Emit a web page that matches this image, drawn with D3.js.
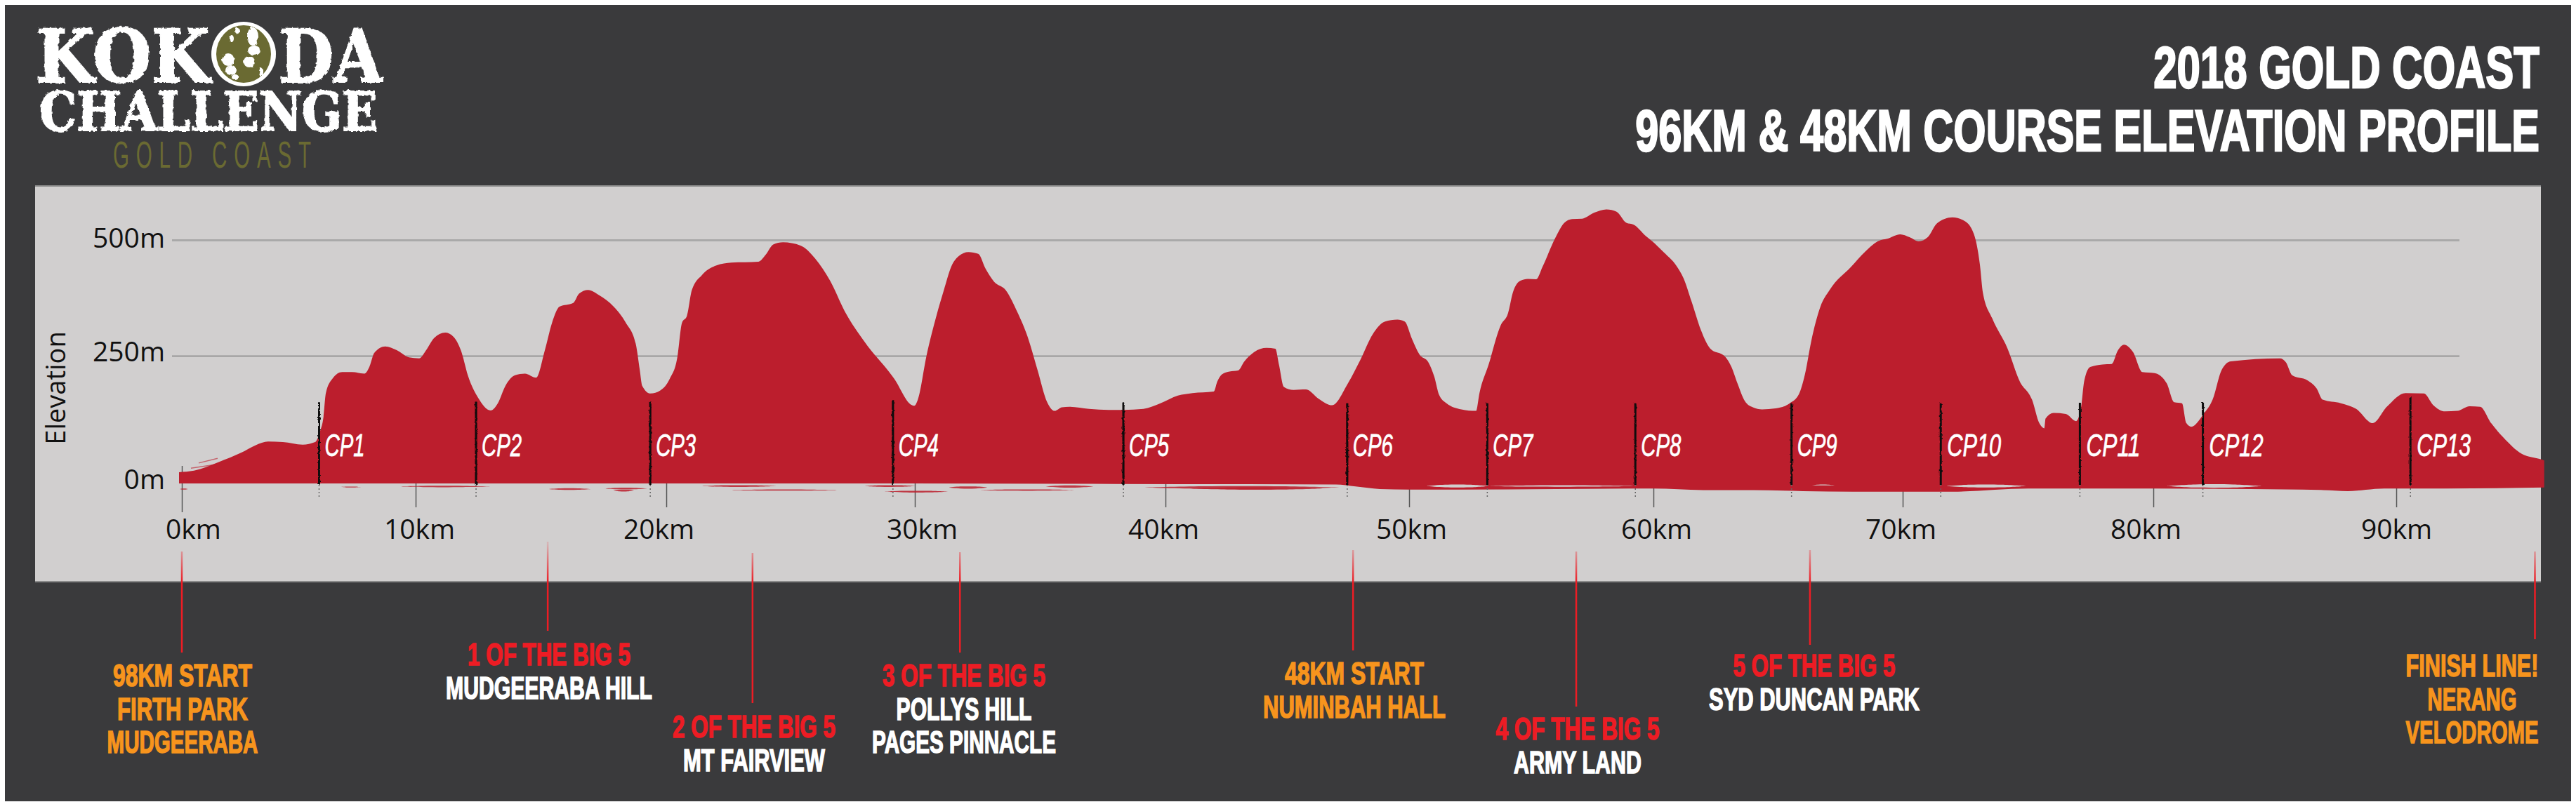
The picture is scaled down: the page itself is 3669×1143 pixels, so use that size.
<!DOCTYPE html>
<html>
<head>
<meta charset="utf-8">
<script src="https://cdnjs.cloudflare.com/ajax/libs/d3/7.8.5/d3.min.js"></script>
<style>
    html, body { margin: 0; padding: 0; background: #fff; overflow: hidden; }
    svg { display: block; }
    .narrow { font-family: "Liberation Sans Narrow", "Liberation Sans", sans-serif; }
    .axis text { font-family: "Open Sans", sans-serif; font-size: 39px; fill: #111; }
</style>
</head>
<body>
<svg id="chart" width="3669" height="1143"></svg>
<script>
; (function () {

    // elevation profile, [km, metres]
    var profile = [
        [-0.12, 22], [0.52, 25], [1.58, 42], [2.53, 60], [3.16, 75], [3.69, 82], [4.32, 81], [5.17, 76], [5.70, 81],
        [5.91, 102], [6.06, 131], [6.16, 177], [6.44, 205], [6.86, 218], [7.28, 218], [7.81, 215], [8.02, 228],
        [8.23, 256], [8.70, 270], [9.19, 262], [9.71, 247], [10.14, 245], [10.43, 263], [10.73, 288], [11.18, 300],
        [11.51, 291], [11.81, 261], [12.10, 209], [12.49, 168], [12.99, 143], [13.28, 157], [13.58, 191], [13.97, 212],
        [14.36, 215], [14.81, 207], [15.15, 261], [15.44, 321], [15.74, 356], [16.29, 364], [16.52, 384], [16.88, 392],
        [17.31, 381], [17.90, 356], [18.39, 321], [18.78, 276], [18.94, 223], [19.04, 191], [19.37, 176], [19.76, 182],
        [20.14, 205], [20.44, 246], [20.63, 321], [20.83, 336], [21.03, 392], [21.43, 424], [22.02, 445], [22.62, 451],
        [23.71, 453], [24.00, 468], [24.30, 490], [24.70, 495], [25.40, 488], [25.99, 460], [26.59, 412], [27.18, 346],
        [27.98, 280], [29.17, 205], [29.86, 154], [29.98, 152], [30.12, 164], [30.47, 251], [30.86, 336], [31.16, 392],
        [31.45, 442], [31.75, 465], [32.14, 474], [32.53, 470], [32.83, 437], [33.16, 410], [33.62, 392], [34.11, 342],
        [34.50, 291], [34.89, 223], [35.28, 159], [35.58, 142], [35.87, 149], [36.17, 150], [36.95, 146], [37.74, 144],
        [38.33, 144], [39.12, 146], [39.80, 157], [40.51, 172], [41.11, 177], [41.98, 180], [42.13, 200], [42.33, 214],
        [42.63, 219], [42.98, 221], [43.24, 239], [43.64, 258], [44.15, 267], [44.51, 265], [44.66, 232], [44.86, 189],
        [45.26, 183], [45.77, 184], [46.28, 166], [46.84, 153], [47.49, 196], [47.99, 241], [48.50, 296], [49.01, 324],
        [49.52, 328], [49.82, 324], [50.12, 286], [50.42, 253], [50.79, 237], [51.03, 209], [51.23, 173], [51.53, 157],
        [52.14, 145], [52.74, 142], [52.88, 177], [53.25, 232], [53.75, 316], [54.05, 342], [54.25, 387], [54.56, 412],
        [54.86, 416], [55.20, 415], [55.46, 442], [55.97, 503], [56.37, 538], [56.67, 545], [57.08, 546], [57.58, 559],
        [58.08, 566], [58.49, 561], [58.89, 537], [59.19, 533], [59.70, 508], [59.93, 498], [60.42, 473], [60.91, 445],
        [61.21, 417], [61.53, 367], [61.90, 306], [62.27, 266], [62.88, 248], [63.13, 228], [63.37, 196], [63.67, 161],
        [63.99, 149], [64.36, 145], [64.90, 147], [65.47, 157], [65.84, 175], [66.08, 214], [66.33, 281], [66.70, 356],
        [67.07, 392], [67.93, 442], [68.50, 475], [69.04, 498], [69.41, 503], [69.90, 512], [70.27, 506], [70.64, 497],
        [71.00, 506], [71.37, 536], [71.98, 549], [72.47, 541], [72.84, 513], [73.08, 447], [73.20, 386], [73.57, 331],
        [74.18, 266], [74.67, 200], [75.16, 164], [75.45, 118], [75.65, 108], [75.70, 127], [76.02, 138], [76.51, 136],
        [76.92, 122], [77.12, 150], [77.24, 200], [77.48, 228], [77.97, 233], [78.34, 234], [78.58, 261], [78.83, 274],
        [79.19, 258], [79.56, 218], [80.05, 216], [80.55, 196], [80.86, 159], [81.18, 157], [81.36, 118], [81.56, 111],
        [82.07, 136], [82.44, 164], [82.82, 223], [83.19, 239], [85.21, 245], [85.46, 237], [85.71, 212], [86.34, 202],
        [86.72, 186], [86.97, 164], [87.72, 157], [88.35, 146], [89.03, 118], [89.61, 150], [90.38, 177], [91.13, 176],
        [91.50, 154], [92.00, 141], [92.50, 142], [93.00, 151], [93.43, 150], [93.88, 118], [94.38, 90], [95.13, 58],
        [95.93, 47], [96.05, 45]
    ]

    // the ragged lower edge of the red shape, [km, metres]
    var baseEdge = [
        [-0.12, 0], [30, 0], [38, -1], [47, -2], [47.8, -6], [48.8, -11], [50, -12], [52, -12], [56, -11], [60, -10],
        [62, -13], [64, -13], [66, -15], [68, -16], [72, -16], [75, -10], [77, -10], [80, -10], [84, -11], [87, -13],
        [88, -15], [89.5, -10], [92, -10], [96.05, -8]
    ]

    // paint smears under the baseline, [km from, km to, metres, thickness]
    var smears = [
        [-0.1, 0.27, -11, 2], [6.75, 7.7, -7, 1.5], [9.1, 13.1, -6, 2.5], [15.25, 17, -11, 3], [17.5, 19.25, -10, 3],
        [17.9, 18.7, -14, 3], [21.4, 24.4, -5, 3], [22.5, 27, -13, 2], [28, 30, -5, 3], [28.8, 31.3, -16, 3],
        [31.35, 32.9, -8, 4], [32.6, 36.4, -13, 2.5], [35.2, 37.15, -6, 4], [39.1, 47.2, -8, 5], [41, 46.5, -10, 4]
    ]
    // light slits left inside the red, same columns
    var slits = [
        [50.7, 53.25, -5, 5], [53.25, 59.3, -5, 2.5], [66.3, 67.3, -3, 1.5], [71.74, 74.9, -5, 5], [80.55, 84.46, -5, 6]
    ]
    // thin strokes above the first climb, [km, m, km, m]
    var streaks = [[0.72, 40, 1.53, 49], [0.39, 30, 1.6, 38]]

    var kmTicks = [0, 10, 20, 30, 40, 50, 60, 70, 80, 90]
    var elevTicks = [0, 250, 500]

    var cpNames = ["CP1", "CP2", "CP3", "CP4", "CP5", "CP6", "CP7", "CP8", "CP9", "CP10", "CP11", "CP12", "CP13"]
    var cpKm = [5.87, 12.41, 19.36, 29.12, 38.32, 47.46, 53.2, 59.26, 65.54, 71.52, 77.07, 82.04, 90.58]
    var cpTop = [159, 160, 160, 163, 158, 157, 157, 157, 157, 157, 158, 158, 170]

    var noteKm = [0, 15.27, 23.47, 31.8, 47.7, 56.84, 66.28, 95.67]
    var noteLines = [
        ["98KM START", "FIRTH PARK", "MUDGEERABA"],
        ["1 OF THE BIG 5", "MUDGEERABA HILL"],
        ["2 OF THE BIG 5", "MT FAIRVIEW"],
        ["3 OF THE BIG 5", "POLLYS HILL", "PAGES PINNACLE"],
        ["48KM START", "NUMINBAH HALL"],
        ["4 OF THE BIG 5", "ARMY LAND"],
        ["5 OF THE BIG 5", "SYD DUNCAN PARK"],
        ["FINISH LINE!", "NERANG", "VELODROME"]
    ]

    // layout of the notes, not data
    var noteLayout = [
        { cx: 260, y: 978, widths: [198, 186, 215], top: 786, end: 930, orange: true },
        { cx: 782, y: 948, widths: [232, 294], top: 772, end: 899 },
        { cx: 1074, y: 1051, widths: [232, 202], top: 788, end: 1002 },
        { cx: 1373, y: 978, widths: [232, 193, 262], top: 787, end: 930 },
        { cx: 1929, y: 975, widths: [198, 260], top: 784, end: 927, orange: true },
        { cx: 2247, y: 1054, widths: [233, 182], top: 786, end: 1007 },
        { cx: 2584, y: 964, widths: [231, 300], top: 784, end: 919 },
        { cx: 3521, y: 964, widths: [189, 127, 189], top: 786, end: 911, orange: true }
    ]

    var red = "#bc1e2d"
    var panel = "#d1cfcf"
    var olive = "#6a6a32"

    var svg = d3.select("#chart")

    // squeeze a text to the width it has in the picture, anchored at (px, py)
    function fit(sel, px, py, width) {
        var w = sel.node().getComputedTextLength()
        sel.attr("transform", "translate(" + px + "," + py + ") scale(" + (width / w) + ",1)")
        return sel
    }

    var defs = svg.append("defs")
    function roughFilter(id, freq, amount) {
        var f = defs.append("filter").attr("id", id).attr("x", "-5%").attr("y", "-5%").attr("width", "110%").attr("height", "110%")
        f.append("feTurbulence").attr("type", "fractalNoise").attr("baseFrequency", freq).attr("numOctaves", 2).attr("seed", 4).attr("result", "n")
        f.append("feDisplacementMap").attr("in", "SourceGraphic").attr("in2", "n").attr("scale", amount)
    }
    roughFilter("rough", 0.18, 5)
    roughFilter("rough2", 0.25, 3)
    var fade = defs.append("linearGradient").attr("id", "fade").attr("gradientUnits", "userSpaceOnUse")
        .attr("x1", 0).attr("x2", 0).attr("y1", 775).attr("y2", 830)
    fade.append("stop").attr("offset", 0).attr("stop-color", "#ed1c24").attr("stop-opacity", 0.15)
    fade.append("stop").attr("offset", 1).attr("stop-color", "#ed1c24")

    svg.append("rect").attr("x", 7).attr("y", 7).attr("width", 3655).attr("height", 1135).attr("fill", "#3a3a3c")
    svg.append("rect").attr("x", 50).attr("y", 265).attr("width", 3569).attr("height", 564).attr("fill", panel)
    svg.append("rect").attr("x", 50).attr("y", 264).attr("width", 3569).attr("height", 2).attr("fill", "#8a8a8a")
    svg.append("rect").attr("x", 50).attr("y", 828).attr("width", 3569).attr("height", 2).attr("fill", "#8a8a8a")

    // the tick spacing in the picture is not even, so the scale goes through each tick
    var x = d3.scaleLinear()
        .domain([0, 10, 20, 30, 40, 50, 60, 70, 80, 90, 96])
        .range([259, 592, 949, 1303, 1660, 2007, 2355, 2710, 3067, 3413, 3622])
    var y = d3.scaleLinear()
        .domain([0, 250, 500])
        .range([689, 507, 342])

    var labelShift = [16, 5, -11, 10, -3, 3, 4, -3, -11, 0]
    var labelDy = { 0: 7, 250: 7, 500: 10 }

    var yAxis = svg.append("g").attr("class", "axis").attr("transform", "translate(245,0)")
        .call(d3.axisLeft(y).tickValues(elevTicks).tickFormat(function (d) { return d + "m" }).tickSize(-3258).tickPadding(10))
    yAxis.select(".domain").remove()
    yAxis.selectAll(".tick line")
        .attr("stroke", function (d) { return d == 500 ? "#a9a9a9" : "#979797" })
        .attr("stroke-width", function (d) { return d == 500 ? 3 : 2 })
        .attr("display", function (d) { return d == 0 ? "none" : null })
    yAxis.selectAll(".tick text").attr("dy", function (d) { return labelDy[d] })

    var xAxis = svg.append("g").attr("class", "axis").attr("transform", "translate(0," + y(0) + ")")
        .call(d3.axisBottom(x).tickValues(kmTicks).tickFormat(function (d) { return d + "km" }).tickSize(34))
    xAxis.select(".domain").remove()
    xAxis.selectAll(".tick line").attr("stroke", "#555").attr("stroke-width", 1.5)
        .attr("y1", function (d) { return d == 0 ? -25 : 0 })
        .attr("y2", function (d) { return d == 0 ? 41 : 34 })
    xAxis.selectAll(".tick text")
        .attr("y", 79).attr("dy", 0)
        .attr("x", function (d, i) { return labelShift[i] })

    svg.append("text").attr("transform", "translate(93,553) rotate(-90)").attr("text-anchor", "middle")
        .style("font-family", '"Open Sans", sans-serif').style("font-size", "38px").attr("fill", "#111")
        .text("Elevation")

    // the red shape, top from the profile and bottom from the ragged edge
    var outline = d3.line().x(function (d) { return x(d[0]) }).y(function (d) { return y(d[1]) }).curve(d3.curveMonotoneX)
    var shape = outline(profile) + "L" + outline(baseEdge.slice().reverse()).slice(1) + "Z"
    svg.append("path").attr("d", shape).attr("fill", red)

    var lens = d3.area()
        .x(function (d) { return x(d[0]) })
        .y0(function (d) { return y(d[1] + d[2]) })
        .y1(function (d) { return y(d[1] - d[2]) })
        .curve(d3.curveCatmullRom)
    function lensPath(s) {
        return lens([[s[0], s[2], 0], [s[0] + (s[1] - s[0]) * 0.3, s[2], s[3] / 2], [s[0] + (s[1] - s[0]) * 0.7, s[2], s[3] / 2], [s[1], s[2], 0]])
    }
    svg.append("g").selectAll("path").data(smears).enter().append("path")
        .attr("d", lensPath).attr("fill", red).attr("opacity", 0.85)
    svg.append("g").selectAll("path").data(slits).enter().append("path")
        .attr("d", lensPath).attr("fill", panel)
    svg.append("g").selectAll("line").data(streaks).enter().append("line")
        .attr("x1", function (d) { return x(d[0]) }).attr("y1", function (d) { return y(d[1]) })
        .attr("x2", function (d) { return x(d[2]) }).attr("y2", function (d) { return y(d[3]) })
        .attr("stroke", red).attr("stroke-width", 1.5).attr("opacity", 0.6)

    // checkpoints
    var cpTails = svg.append("g")
    var cpPosts = svg.append("g").attr("filter", "url(#rough2)")
    cpNames.forEach(function (name, i) {
        var px = x(cpKm[i])
        cpTails.append("line").attr("x1", px).attr("x2", px).attr("y1", y(0) + 2).attr("y2", y(-29))
            .attr("stroke", "#666").attr("stroke-width", 1.5).attr("stroke-dasharray", "2 3")
        cpPosts.append("line").attr("x1", px).attr("x2", px).attr("y1", y(cpTop[i])).attr("y2", y(0) + 2)
            .attr("stroke", "#0a0a0a").attr("stroke-width", 3)
        var label = svg.append("text").attr("class", "narrow")
            .style("font-size", "44px").style("font-style", "italic")
            .attr("fill", "#fff").attr("stroke", "#fff").attr("stroke-width", 0.8)
            .text(name)
        fit(label, px + (i > 8 ? 9 : 8), 650, i > 8 ? 77 : 57)
    })

    // notes under the panel
    noteLines.forEach(function (lines, i) {
        var l = noteLayout[i]
        svg.append("line")
            .attr("x1", x(noteKm[i])).attr("x2", x(noteKm[i]) + 0.01)
            .attr("y1", l.top).attr("y2", l.end)
            .attr("stroke", "url(#fade)").attr("stroke-width", 2.5)
        lines.forEach(function (t, j) {
            var big5 = lines[0].indexOf("OF THE BIG") > 0
            var colour = l.orange ? "#f7941d" : (big5 && j == 0 ? "#ed1c24" : "#fff")
            var note = svg.append("text").attr("class", "narrow")
                .attr("text-anchor", "middle")
                .style("font-size", "45px").style("font-weight", "bold")
                .attr("fill", colour).attr("stroke", colour).attr("stroke-width", 1.6)
                .text(t)
            fit(note, l.cx, l.y + j * 47.5, l.widths[j])
        })
    })

    // title
    var title = [["2018 GOLD COAST", 3617, 125, 550], ["96KM & 48KM COURSE ELEVATION PROFILE", 3617, 215, 1288]]
    title.forEach(function (t) {
        var line = svg.append("text").attr("class", "narrow")
            .attr("text-anchor", "end")
            .style("font-size", "84px").style("font-weight", "bold")
            .attr("fill", "#fff").attr("stroke", "#fff").attr("stroke-width", 2.5)
            .text(t[0])
        fit(line, t[1], t[2], t[3])
    })

    // logo
    var logo = svg.append("g")
    function stencil(t, left, base, width, size) {
        var word = logo.append("text")
            .style("font-family", '"DejaVu Serif", serif').style("font-weight", "bold").style("font-size", size + "px")
            .attr("fill", "#fff").attr("stroke", "#fff").attr("stroke-width", 2).attr("filter", "url(#rough)")
            .text(t)
        fit(word, left, base, width)
    }
    stencil("KOK", 51, 117, 248, 105)
    stencil("DA", 397, 117, 148, 105)
    stencil("CHALLENGE", 56, 186, 482, 77)

    logo.append("ellipse").attr("cx", 347).attr("cy", 77).attr("rx", 46).attr("ry", 46).attr("fill", "#fff")
    logo.append("ellipse").attr("cx", 347).attr("cy", 77).attr("rx", 39).attr("ry", 41).attr("fill", olive)
    // boot prints inside the O
    var prints = [[360, 52, 8, 13], [362, 72, 9, 7], [355, 88, 8, 8], [325, 85, 9, 9], [329, 100, 8, 7], [335, 110, 5, 4], [330, 55, 3, 5], [338, 44, 3, 4], [372, 103, 3, 6]]
    logo.selectAll(".print").data(prints).enter().append("ellipse")
        .attr("cx", function (d) { return d[0] }).attr("cy", function (d) { return d[1] })
        .attr("rx", function (d) { return d[2] }).attr("ry", function (d) { return d[3] })
        .attr("fill", "#fff").attr("filter", "url(#rough)")

    var place = logo.append("text").attr("class", "narrow")
        .style("font-size", "54px").style("letter-spacing", "18px").attr("fill", olive)
        .text("GOLD COAST")
    fit(place, 161, 239, 292)

})();
</script>
</body>
</html>
